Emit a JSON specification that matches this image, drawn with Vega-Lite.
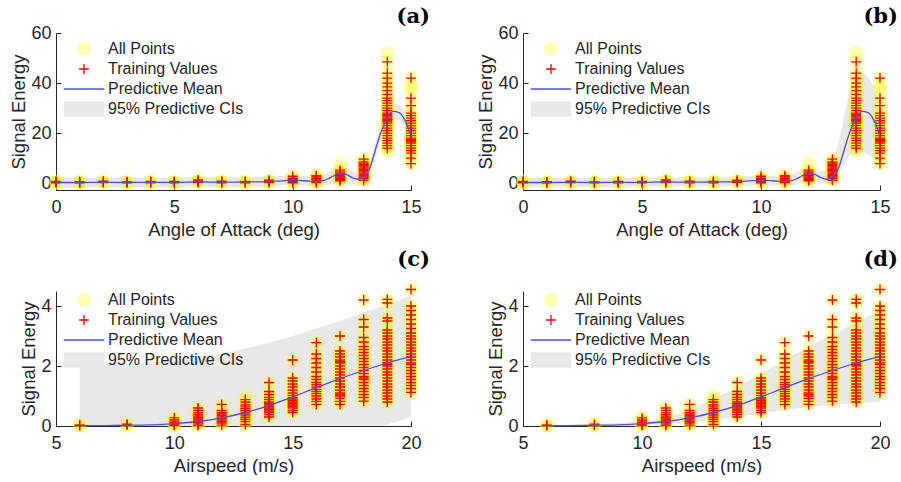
{
  "$schema": "https://vega.github.io/schema/vega-lite/v6.json",
  "background": "white",
  "padding": {"left": 9, "top": 6, "right": 4, "bottom": 0},
  "config": {
    "view": {"stroke": null},
    "font": "Liberation Sans",
    "axis": {"grid": false, "labelFlush": false, "labelOverlap": false, "domainColor": "#262626", "domainWidth": 1, "tickColor": "#262626", "tickSize": -5, "labelColor": "#262626", "titleColor": "#262626", "labelFontSize": 18, "titleFontSize": 18.5, "titleFontWeight": "normal", "labelFont": "Liberation Sans", "titleFont": "Liberation Sans"},
    "axisX": {"labelPadding": 13, "titlePadding": 4},
    "axisY": {"labelPadding": 10, "titlePadding": 2},
    "title": {"font": "DejaVu Serif", "fontSize": 21, "fontWeight": "bold", "color": "black", "anchor": "end", "frame": "group"},
    "legend": {"orient": "none", "legendX": 20, "title": null, "padding": 0, "symbolSize": 196, "labelFontSize": 16, "labelColor": "#262626", "labelFont": "Liberation Sans", "rowPadding": 4, "labelOffset": 16}
  },
  "datasets": {
    "pa": [
      {"x":0,"y":0.2},{"x":0,"y":0.45},{"x":0,"y":0.7},
      {"x":1,"y":0.2},{"x":1,"y":0.4},{"x":1,"y":0.6},
      {"x":2,"y":0.25},{"x":2,"y":0.5},{"x":2,"y":0.8},
      {"x":3,"y":0.15},{"x":3,"y":0.35},{"x":3,"y":0.55},
      {"x":4,"y":0.2},{"x":4,"y":0.45},{"x":4,"y":0.7},
      {"x":5,"y":0.2},{"x":5,"y":0.45},{"x":5,"y":0.7},
      {"x":6,"y":0.3},{"x":6,"y":0.7},{"x":6,"y":1.3},
      {"x":7,"y":0.2},{"x":7,"y":0.5},{"x":7,"y":0.8},
      {"x":8,"y":0.2},{"x":8,"y":0.45},{"x":8,"y":0.7},
      {"x":9,"y":0.3},{"x":9,"y":0.7},{"x":9,"y":1.2},
      {"x":10,"y":0.2},{"x":10,"y":0.8},{"x":10,"y":1.4},{"x":10,"y":2.0},{"x":10,"y":2.8},
      {"x":11,"y":0.3},{"x":11,"y":0.8},{"x":11,"y":1.3},{"x":11,"y":1.8},{"x":11,"y":2.5},{"x":11,"y":3.0},
      {"x":12,"y":1.0},{"x":12,"y":1.5},{"x":12,"y":2.0},{"x":12,"y":2.5},{"x":12,"y":3.0},{"x":12,"y":3.3},{"x":12,"y":3.6},{"x":12,"y":4.0},{"x":12,"y":4.5},{"x":12,"y":5.2},{"x":12,"y":8.0,"t":0},
      {"x":13,"y":1.2},{"x":13,"y":2.0},{"x":13,"y":2.5},{"x":13,"y":3.0},{"x":13,"y":3.5},{"x":13,"y":4.0},{"x":13,"y":4.5},{"x":13,"y":5.0},{"x":13,"y":5.5},{"x":13,"y":6.0},{"x":13,"y":6.5},{"x":13,"y":7.0},{"x":13,"y":7.5},{"x":13,"y":8.0},{"x":13,"y":8.5},{"x":13,"y":9.6},
      {"x":14,"y":13,"t":0},{"x":14,"y":14},{"x":14,"y":15},{"x":14,"y":16},{"x":14,"y":17},{"x":14,"y":18},{"x":14,"y":19},{"x":14,"y":20},{"x":14,"y":21},{"x":14,"y":22},{"x":14,"y":23},{"x":14,"y":24},{"x":14,"y":24.5},{"x":14,"y":25},{"x":14,"y":25.5},{"x":14,"y":26},{"x":14,"y":26.5},{"x":14,"y":27},{"x":14,"y":27.5},{"x":14,"y":28},{"x":14,"y":29},{"x":14,"y":30},{"x":14,"y":31},{"x":14,"y":32},{"x":14,"y":33},{"x":14,"y":34},{"x":14,"y":35.5},{"x":14,"y":37},{"x":14,"y":38.5},{"x":14,"y":40},{"x":14,"y":42},{"x":14,"y":44},{"x":14,"y":48.5},{"x":14,"y":52,"t":0},
      {"x":15,"y":7.8},{"x":15,"y":10},{"x":15,"y":12},{"x":15,"y":13},{"x":15,"y":14},{"x":15,"y":15},{"x":15,"y":16},{"x":15,"y":16.5},{"x":15,"y":17},{"x":15,"y":17.5},{"x":15,"y":18},{"x":15,"y":19},{"x":15,"y":20},{"x":15,"y":21},{"x":15,"y":22},{"x":15,"y":23},{"x":15,"y":24},{"x":15,"y":25},{"x":15,"y":26},{"x":15,"y":27},{"x":15,"y":28},{"x":15,"y":31},{"x":15,"y":34},{"x":15,"y":37.5,"t":0},{"x":15,"y":38.8,"t":0},{"x":15,"y":42}
    ],
    "ps": [
      {"x":6,"y":0.02},{"x":6,"y":0.03},
      {"x":8,"y":0.03},{"x":8,"y":0.06},
      {"x":10,"y":0.02},{"x":10,"y":0.06},{"x":10,"y":0.1},{"x":10,"y":0.14},{"x":10,"y":0.2},{"x":10,"y":0.27},
      {"x":11,"y":0.02},{"x":11,"y":0.07},{"x":11,"y":0.12},{"x":11,"y":0.16},{"x":11,"y":0.2},{"x":11,"y":0.24},{"x":11,"y":0.28},{"x":11,"y":0.33},{"x":11,"y":0.38},{"x":11,"y":0.44},{"x":11,"y":0.52},{"x":11,"y":0.6},
      {"x":12,"y":0.03},{"x":12,"y":0.1},{"x":12,"y":0.15},{"x":12,"y":0.2},{"x":12,"y":0.25},{"x":12,"y":0.3},{"x":12,"y":0.35},{"x":12,"y":0.4},{"x":12,"y":0.45},{"x":12,"y":0.52},{"x":12,"y":0.72},
      {"x":13,"y":0.05},{"x":13,"y":0.15},{"x":13,"y":0.22},{"x":13,"y":0.28},{"x":13,"y":0.34},{"x":13,"y":0.4},{"x":13,"y":0.46},{"x":13,"y":0.52},{"x":13,"y":0.58},{"x":13,"y":0.64},{"x":13,"y":0.7},{"x":13,"y":0.8},{"x":13,"y":0.88},{"x":13,"y":1.0,"t":0},
      {"x":14,"y":0.3},{"x":14,"y":0.38},{"x":14,"y":0.45},{"x":14,"y":0.5},{"x":14,"y":0.55},{"x":14,"y":0.6},{"x":14,"y":0.65},{"x":14,"y":0.7},{"x":14,"y":0.75},{"x":14,"y":0.8},{"x":14,"y":0.88},{"x":14,"y":0.95},{"x":14,"y":1.05},{"x":14,"y":1.15},{"x":14,"y":1.45},
      {"x":15,"y":0.45},{"x":15,"y":0.52},{"x":15,"y":0.6},{"x":15,"y":0.65},{"x":15,"y":0.7},{"x":15,"y":0.75},{"x":15,"y":0.8},{"x":15,"y":0.85},{"x":15,"y":0.9},{"x":15,"y":0.95},{"x":15,"y":1.02},{"x":15,"y":1.1},{"x":15,"y":1.2},{"x":15,"y":1.3},{"x":15,"y":1.4},{"x":15,"y":1.5},{"x":15,"y":1.6},{"x":15,"y":2.2},
      {"x":16,"y":0.72},{"x":16,"y":0.82},{"x":16,"y":0.9},{"x":16,"y":1.0},{"x":16,"y":1.08},{"x":16,"y":1.15},{"x":16,"y":1.22},{"x":16,"y":1.3},{"x":16,"y":1.38},{"x":16,"y":1.45},{"x":16,"y":1.55},{"x":16,"y":1.65},{"x":16,"y":1.8},{"x":16,"y":1.95},{"x":16,"y":2.1},{"x":16,"y":2.25},{"x":16,"y":2.4},{"x":16,"y":2.78},
      {"x":17,"y":0.72},{"x":17,"y":0.82},{"x":17,"y":0.92},{"x":17,"y":1.0},{"x":17,"y":1.05},{"x":17,"y":1.1},{"x":17,"y":1.2},{"x":17,"y":1.3},{"x":17,"y":1.4},{"x":17,"y":1.5},{"x":17,"y":1.6},{"x":17,"y":1.7},{"x":17,"y":1.8},{"x":17,"y":1.9},{"x":17,"y":2.0},{"x":17,"y":2.1},{"x":17,"y":2.15},{"x":17,"y":2.2},{"x":17,"y":2.3},{"x":17,"y":2.4},{"x":17,"y":2.5},{"x":17,"y":3.0},
      {"x":18,"y":0.83},{"x":18,"y":0.95},{"x":18,"y":1.05},{"x":18,"y":1.15},{"x":18,"y":1.25},{"x":18,"y":1.35},{"x":18,"y":1.45},{"x":18,"y":1.55},{"x":18,"y":1.6},{"x":18,"y":1.65},{"x":18,"y":1.75},{"x":18,"y":1.85},{"x":18,"y":1.95},{"x":18,"y":2.05},{"x":18,"y":2.15},{"x":18,"y":2.25},{"x":18,"y":2.35},{"x":18,"y":2.45},{"x":18,"y":2.55},{"x":18,"y":2.65},{"x":18,"y":2.8},{"x":18,"y":2.95},{"x":18,"y":3.3},{"x":18,"y":3.55},{"x":18,"y":4.2},
      {"x":19,"y":0.8},{"x":19,"y":0.9},{"x":19,"y":1.0},{"x":19,"y":1.1},{"x":19,"y":1.2},{"x":19,"y":1.3},{"x":19,"y":1.4},{"x":19,"y":1.5},{"x":19,"y":1.6},{"x":19,"y":1.7},{"x":19,"y":1.8},{"x":19,"y":1.9},{"x":19,"y":2.0},{"x":19,"y":2.05},{"x":19,"y":2.1},{"x":19,"y":2.2},{"x":19,"y":2.3},{"x":19,"y":2.4},{"x":19,"y":2.5},{"x":19,"y":2.6},{"x":19,"y":2.7},{"x":19,"y":2.8},{"x":19,"y":2.9},{"x":19,"y":3.0},{"x":19,"y":3.1},{"x":19,"y":3.2},{"x":19,"y":3.5},{"x":19,"y":3.6},{"x":19,"y":4.1},{"x":19,"y":4.22},
      {"x":20,"y":1.12},{"x":20,"y":1.25},{"x":20,"y":1.35},{"x":20,"y":1.45},{"x":20,"y":1.55},{"x":20,"y":1.65},{"x":20,"y":1.75},{"x":20,"y":1.85},{"x":20,"y":1.95},{"x":20,"y":2.05},{"x":20,"y":2.1},{"x":20,"y":2.2},{"x":20,"y":2.3},{"x":20,"y":2.4},{"x":20,"y":2.5},{"x":20,"y":2.6},{"x":20,"y":2.7},{"x":20,"y":2.8},{"x":20,"y":2.9},{"x":20,"y":3.0},{"x":20,"y":3.1},{"x":20,"y":3.25},{"x":20,"y":3.4},{"x":20,"y":3.55},{"x":20,"y":3.7},{"x":20,"y":3.85},{"x":20,"y":4.0},{"x":20,"y":4.55}
    ],
    "ang": [
      {"x":0,"m":0.3,"loa":-2.0,"hia":2.5,"lob":-1.7,"hib":2.3},
      {"x":1,"m":0.3,"loa":-1.7,"hia":2.3,"lob":-1.5,"hib":2.2},
      {"x":2,"m":0.35,"loa":-1.6,"hia":2.3,"lob":-1.4,"hib":2.2},
      {"x":3,"m":0.3,"loa":-1.7,"hia":2.3,"lob":-1.5,"hib":2.2},
      {"x":4,"m":0.35,"loa":-1.6,"hia":2.3,"lob":-1.4,"hib":2.2},
      {"x":5,"m":0.35,"loa":-1.6,"hia":2.3,"lob":-1.4,"hib":2.2},
      {"x":6,"m":0.5,"loa":-1.5,"hia":2.5,"lob":-1.3,"hib":2.4},
      {"x":7,"m":0.45,"loa":-1.5,"hia":2.4,"lob":-1.3,"hib":2.3},
      {"x":8,"m":0.5,"loa":-1.5,"hia":2.5,"lob":-1.3,"hib":2.4},
      {"x":9,"m":0.6,"loa":-1.4,"hia":2.6,"lob":-1.2,"hib":2.5},
      {"x":9.5,"m":0.95,"loa":-1.1,"hia":3.0,"lob":-0.9,"hib":2.9},
      {"x":10,"m":1.25,"loa":-0.8,"hia":3.3,"lob":-0.6,"hib":3.2},
      {"x":10.5,"m":1.0,"loa":-1.0,"hia":3.0,"lob":-0.9,"hib":3.0},
      {"x":11,"m":0.6,"loa":-1.5,"hia":2.8,"lob":-1.3,"hib":2.7},
      {"x":11.25,"m":0.9,"loa":-1.4,"hia":3.3,"lob":-1.2,"hib":3.3},
      {"x":11.5,"m":1.8,"loa":-0.6,"hia":4.3,"lob":-0.5,"hib":4.5},
      {"x":11.75,"m":3.0,"loa":0.5,"hia":5.5,"lob":0.5,"hib":5.8},
      {"x":12,"m":3.7,"loa":1.2,"hia":6.2,"lob":1.0,"hib":6.5},
      {"x":12.25,"m":3.5,"loa":1.0,"hia":6.0,"lob":0.8,"hib":6.3},
      {"x":12.5,"m":2.3,"loa":-0.2,"hia":4.8,"lob":0.2,"hib":5.0},
      {"x":12.75,"m":1.6,"loa":-1.0,"hia":4.2,"lob":0.3,"hib":5.5},
      {"x":13,"m":2.6,"loa":-0.2,"hia":5.4,"lob":1.2,"hib":9.5},
      {"x":13.25,"m":5.8,"loa":2.8,"hia":8.8,"lob":3.5,"hib":16},
      {"x":13.5,"m":13.5,"loa":10.5,"hia":16.5,"lob":7.5,"hib":27},
      {"x":13.75,"m":21,"loa":18,"hia":24,"lob":11.5,"hib":37},
      {"x":14,"m":26,"loa":23,"hia":29,"lob":12.5,"hib":43},
      {"x":14.25,"m":28.7,"loa":25.7,"hia":31.7,"lob":12.5,"hib":44},
      {"x":14.5,"m":28.2,"loa":25.2,"hia":31.2,"lob":11.5,"hib":42},
      {"x":14.75,"m":25,"loa":22,"hia":28,"lob":10,"hib":38},
      {"x":15,"m":19,"loa":15.5,"hia":22.5,"lob":7.8,"hib":32}
    ],
    "spd": [
      {"x":6,"m":0.01,"loc":-2.0,"hic":2.05,"lod":0.0,"hid":0.03},
      {"x":7,"m":0.015,"loc":-2.0,"hic":2.06,"lod":0.0,"hid":0.05},
      {"x":8,"m":0.025,"loc":-2.0,"hic":2.08,"lod":0.0,"hid":0.07},
      {"x":9,"m":0.04,"loc":-1.95,"hic":2.12,"lod":0.01,"hid":0.1},
      {"x":10,"m":0.08,"loc":-1.9,"hic":2.2,"lod":0.03,"hid":0.15},
      {"x":11,"m":0.15,"loc":-1.75,"hic":2.3,"lod":0.07,"hid":0.3},
      {"x":12,"m":0.27,"loc":-1.55,"hic":2.42,"lod":0.12,"hid":0.55},
      {"x":13,"m":0.45,"loc":-1.3,"hic":2.58,"lod":0.2,"hid":0.9},
      {"x":14,"m":0.68,"loc":-1.05,"hic":2.78,"lod":0.3,"hid":1.3},
      {"x":15,"m":0.97,"loc":-0.8,"hic":3.0,"lod":0.42,"hid":1.75},
      {"x":16,"m":1.28,"loc":-0.55,"hic":3.25,"lod":0.53,"hid":2.2},
      {"x":17,"m":1.58,"loc":-0.35,"hic":3.5,"lod":0.63,"hid":2.65},
      {"x":18,"m":1.85,"loc":-0.15,"hic":3.78,"lod":0.71,"hid":3.05},
      {"x":19,"m":2.1,"loc":0.05,"hic":4.05,"lod":0.77,"hid":3.45},
      {"x":20,"m":2.32,"loc":0.3,"hic":4.35,"lod":0.8,"hid":3.85}
    ]
  },
  "columns": 2,
  "spacing": {"row": 101, "column": 112},
  "bounds": "flush",
  "resolve": {"scale": {"color": "independent"}, "legend": {"color": "independent"}},
  "concat": [
    {
      "width": 355, "height": 157,
      "title": {"text": "(a)", "dx": 19, "offset": -3},
      "layer": [
        {"data": {"name": "ang"}, "mark": {"type": "area", "clip": true, "interpolate": "monotone", "opacity": 1},
         "encoding": {
           "x": {"field": "x", "type": "quantitative", "title": "Angle of Attack (deg)", "scale": {"domain": [0, 15], "nice": false, "zero": false}, "axis": {"values": [0, 5, 10, 15]}},
           "y": {"field": "loa", "type": "quantitative", "title": "Signal Energy", "scale": {"domain": [-2.7, 60], "nice": false}, "axis": {"values": [0, 20, 40, 60]}},
           "y2": {"field": "hia"},
           "color": {"datum": "95% Predictive CIs", "scale": {"domain": ["All Points", "Training Values", "Predictive Mean", "95% Predictive CIs"], "range": ["#ffff00", "#ff0000", "#4d4dff", "#e8e8e8"]},
             "legend": {"legendY": 8, "encoding": {"symbols": {
               "shape": {"value": {"expr": "datum.value === 'All Points' ? 'circle' : datum.value === 'Training Values' ? 'M-0.7,0H0.7M0,-0.7V0.7' : datum.value === 'Predictive Mean' ? 'M-2.9,0H2.9' : 'M-2.9,-1.1H2.9V1.1H-2.9Z'"}},
               "fill": {"value": {"expr": "datum.value === 'All Points' ? '#ffffb3' : datum.value === '95% Predictive CIs' ? '#e8e8e8' : 'transparent'"}},
               "fillOpacity": {"value": {"expr": "datum.value === 'All Points' ? 0.3 : 1"}},
               "stroke": {"value": {"expr": "datum.value === 'Training Values' ? '#ff0000' : datum.value === 'Predictive Mean' ? '#4d4dff' : 'transparent'"}},
               "strokeOpacity": {"value": {"expr": "datum.value === 'Training Values' || datum.value === 'Predictive Mean' ? 1 : 0"}},
               "strokeWidth": {"value": 1.3}, "opacity": {"value": 1}, "size": {"value": 196}}}}}
         }},
        {"data": {"name": "pa"}, "mark": {"type": "point", "filled": true, "shape": "circle", "size": 196, "opacity": 0.3},
         "encoding": {
           "x": {"field": "x", "type": "quantitative", "title": "Angle of Attack (deg)"},
           "y": {"field": "y", "type": "quantitative", "title": "Signal Energy"},
           "color": {"datum": "All Points"}}},
        {"data": {"name": "pa"}, "transform": [{"filter": "datum.t !== 0"}], "mark": {"type": "point", "filled": false, "shape": "M-1,0H1M0,-1V1", "size": 100, "strokeWidth": 1.3, "opacity": 1},
         "encoding": {
           "x": {"field": "x", "type": "quantitative", "title": "Angle of Attack (deg)"},
           "y": {"field": "y", "type": "quantitative", "title": "Signal Energy"},
           "color": {"datum": "Training Values"}}},
        {"data": {"name": "ang"}, "mark": {"type": "line", "interpolate": "monotone", "strokeWidth": 1.3},
         "encoding": {
           "x": {"field": "x", "type": "quantitative", "title": "Angle of Attack (deg)"},
           "y": {"field": "m", "type": "quantitative", "title": "Signal Energy"},
           "color": {"datum": "Predictive Mean"}}}
      ]
    },
    {
      "width": 357, "height": 157,
      "title": {"text": "(b)", "dx": 18, "offset": -3},
      "layer": [
        {"data": {"name": "ang"}, "mark": {"type": "area", "clip": true, "interpolate": "monotone", "opacity": 1},
         "encoding": {
           "x": {"field": "x", "type": "quantitative", "title": "Angle of Attack (deg)", "scale": {"domain": [0, 15], "nice": false, "zero": false}, "axis": {"values": [0, 5, 10, 15]}},
           "y": {"field": "lob", "type": "quantitative", "title": "Signal Energy", "scale": {"domain": [-2.7, 60], "nice": false}, "axis": {"values": [0, 20, 40, 60]}},
           "y2": {"field": "hib"},
           "color": {"datum": "95% Predictive CIs", "scale": {"domain": ["All Points", "Training Values", "Predictive Mean", "95% Predictive CIs"], "range": ["#ffff00", "#ff0000", "#4d4dff", "#e8e8e8"]},
             "legend": {"legendY": 8, "encoding": {"symbols": {
               "shape": {"value": {"expr": "datum.value === 'All Points' ? 'circle' : datum.value === 'Training Values' ? 'M-0.7,0H0.7M0,-0.7V0.7' : datum.value === 'Predictive Mean' ? 'M-2.9,0H2.9' : 'M-2.9,-1.1H2.9V1.1H-2.9Z'"}},
               "fill": {"value": {"expr": "datum.value === 'All Points' ? '#ffffb3' : datum.value === '95% Predictive CIs' ? '#e8e8e8' : 'transparent'"}},
               "fillOpacity": {"value": {"expr": "datum.value === 'All Points' ? 0.3 : 1"}},
               "stroke": {"value": {"expr": "datum.value === 'Training Values' ? '#ff0000' : datum.value === 'Predictive Mean' ? '#4d4dff' : 'transparent'"}},
               "strokeOpacity": {"value": {"expr": "datum.value === 'Training Values' || datum.value === 'Predictive Mean' ? 1 : 0"}},
               "strokeWidth": {"value": 1.3}, "opacity": {"value": 1}, "size": {"value": 196}}}}}
         }},
        {"data": {"name": "pa"}, "mark": {"type": "point", "filled": true, "shape": "circle", "size": 196, "opacity": 0.3},
         "encoding": {
           "x": {"field": "x", "type": "quantitative", "title": "Angle of Attack (deg)"},
           "y": {"field": "y", "type": "quantitative", "title": "Signal Energy"},
           "color": {"datum": "All Points"}}},
        {"data": {"name": "pa"}, "transform": [{"filter": "datum.t !== 0"}], "mark": {"type": "point", "filled": false, "shape": "M-1,0H1M0,-1V1", "size": 100, "strokeWidth": 1.3, "opacity": 1},
         "encoding": {
           "x": {"field": "x", "type": "quantitative", "title": "Angle of Attack (deg)"},
           "y": {"field": "y", "type": "quantitative", "title": "Signal Energy"},
           "color": {"datum": "Training Values"}}},
        {"data": {"name": "ang"}, "mark": {"type": "line", "interpolate": "monotone", "strokeWidth": 1.3},
         "encoding": {
           "x": {"field": "x", "type": "quantitative", "title": "Angle of Attack (deg)"},
           "y": {"field": "m", "type": "quantitative", "title": "Signal Energy"},
           "color": {"datum": "Predictive Mean"}}}
      ]
    },
    {
      "width": 355, "height": 135,
      "title": {"text": "(c)", "dx": 19, "offset": 12},
      "layer": [
        {"data": {"name": "spd"}, "mark": {"type": "area", "clip": true, "interpolate": "monotone", "opacity": 1},
         "encoding": {
           "x": {"field": "x", "type": "quantitative", "title": "Airspeed (m/s)", "scale": {"domain": [5, 20], "nice": false, "zero": false}, "axis": {"values": [5, 10, 15, 20]}},
           "y": {"field": "loc", "type": "quantitative", "title": "Signal Energy", "scale": {"domain": [0, 4.5], "nice": false}, "axis": {"values": [0, 2, 4]}},
           "y2": {"field": "hic"},
           "color": {"datum": "95% Predictive CIs", "scale": {"domain": ["All Points", "Training Values", "Predictive Mean", "95% Predictive CIs"], "range": ["#ffff00", "#ff0000", "#4d4dff", "#e8e8e8"]},
             "legend": {"legendY": 1, "encoding": {"symbols": {
               "shape": {"value": {"expr": "datum.value === 'All Points' ? 'circle' : datum.value === 'Training Values' ? 'M-0.7,0H0.7M0,-0.7V0.7' : datum.value === 'Predictive Mean' ? 'M-2.9,0H2.9' : 'M-2.9,-1.1H2.9V1.1H-2.9Z'"}},
               "fill": {"value": {"expr": "datum.value === 'All Points' ? '#ffffb3' : datum.value === '95% Predictive CIs' ? '#e8e8e8' : 'transparent'"}},
               "fillOpacity": {"value": {"expr": "datum.value === 'All Points' ? 0.3 : 1"}},
               "stroke": {"value": {"expr": "datum.value === 'Training Values' ? '#ff0000' : datum.value === 'Predictive Mean' ? '#4d4dff' : 'transparent'"}},
               "strokeOpacity": {"value": {"expr": "datum.value === 'Training Values' || datum.value === 'Predictive Mean' ? 1 : 0"}},
               "strokeWidth": {"value": 1.3}, "opacity": {"value": 1}, "size": {"value": 196}}}}}
         }},
        {"data": {"name": "ps"}, "mark": {"type": "point", "filled": true, "shape": "circle", "size": 196, "opacity": 0.3},
         "encoding": {
           "x": {"field": "x", "type": "quantitative", "title": "Airspeed (m/s)"},
           "y": {"field": "y", "type": "quantitative", "title": "Signal Energy"},
           "color": {"datum": "All Points"}}},
        {"data": {"name": "ps"}, "transform": [{"filter": "datum.t !== 0"}], "mark": {"type": "point", "filled": false, "shape": "M-1,0H1M0,-1V1", "size": 100, "strokeWidth": 1.3, "opacity": 1},
         "encoding": {
           "x": {"field": "x", "type": "quantitative", "title": "Airspeed (m/s)"},
           "y": {"field": "y", "type": "quantitative", "title": "Signal Energy"},
           "color": {"datum": "Training Values"}}},
        {"data": {"name": "spd"}, "mark": {"type": "line", "interpolate": "monotone", "strokeWidth": 1.3},
         "encoding": {
           "x": {"field": "x", "type": "quantitative", "title": "Airspeed (m/s)"},
           "y": {"field": "m", "type": "quantitative", "title": "Signal Energy"},
           "color": {"datum": "Predictive Mean"}}}
      ]
    },
    {
      "width": 357, "height": 135,
      "title": {"text": "(d)", "dx": 18, "offset": 12},
      "layer": [
        {"data": {"name": "spd"}, "mark": {"type": "area", "clip": true, "interpolate": "monotone", "opacity": 1},
         "encoding": {
           "x": {"field": "x", "type": "quantitative", "title": "Airspeed (m/s)", "scale": {"domain": [5, 20], "nice": false, "zero": false}, "axis": {"values": [5, 10, 15, 20]}},
           "y": {"field": "lod", "type": "quantitative", "title": "Signal Energy", "scale": {"domain": [0, 4.5], "nice": false}, "axis": {"values": [0, 2, 4]}},
           "y2": {"field": "hid"},
           "color": {"datum": "95% Predictive CIs", "scale": {"domain": ["All Points", "Training Values", "Predictive Mean", "95% Predictive CIs"], "range": ["#ffff00", "#ff0000", "#4d4dff", "#e8e8e8"]},
             "legend": {"legendY": 1, "encoding": {"symbols": {
               "shape": {"value": {"expr": "datum.value === 'All Points' ? 'circle' : datum.value === 'Training Values' ? 'M-0.7,0H0.7M0,-0.7V0.7' : datum.value === 'Predictive Mean' ? 'M-2.9,0H2.9' : 'M-2.9,-1.1H2.9V1.1H-2.9Z'"}},
               "fill": {"value": {"expr": "datum.value === 'All Points' ? '#ffffb3' : datum.value === '95% Predictive CIs' ? '#e8e8e8' : 'transparent'"}},
               "fillOpacity": {"value": {"expr": "datum.value === 'All Points' ? 0.3 : 1"}},
               "stroke": {"value": {"expr": "datum.value === 'Training Values' ? '#ff0000' : datum.value === 'Predictive Mean' ? '#4d4dff' : 'transparent'"}},
               "strokeOpacity": {"value": {"expr": "datum.value === 'Training Values' || datum.value === 'Predictive Mean' ? 1 : 0"}},
               "strokeWidth": {"value": 1.3}, "opacity": {"value": 1}, "size": {"value": 196}}}}}
         }},
        {"data": {"name": "ps"}, "mark": {"type": "point", "filled": true, "shape": "circle", "size": 196, "opacity": 0.3},
         "encoding": {
           "x": {"field": "x", "type": "quantitative", "title": "Airspeed (m/s)"},
           "y": {"field": "y", "type": "quantitative", "title": "Signal Energy"},
           "color": {"datum": "All Points"}}},
        {"data": {"name": "ps"}, "transform": [{"filter": "datum.t !== 0"}], "mark": {"type": "point", "filled": false, "shape": "M-1,0H1M0,-1V1", "size": 100, "strokeWidth": 1.3, "opacity": 1},
         "encoding": {
           "x": {"field": "x", "type": "quantitative", "title": "Airspeed (m/s)"},
           "y": {"field": "y", "type": "quantitative", "title": "Signal Energy"},
           "color": {"datum": "Training Values"}}},
        {"data": {"name": "spd"}, "mark": {"type": "line", "interpolate": "monotone", "strokeWidth": 1.3},
         "encoding": {
           "x": {"field": "x", "type": "quantitative", "title": "Airspeed (m/s)"},
           "y": {"field": "m", "type": "quantitative", "title": "Signal Energy"},
           "color": {"datum": "Predictive Mean"}}}
      ]
    }
  ]
}
